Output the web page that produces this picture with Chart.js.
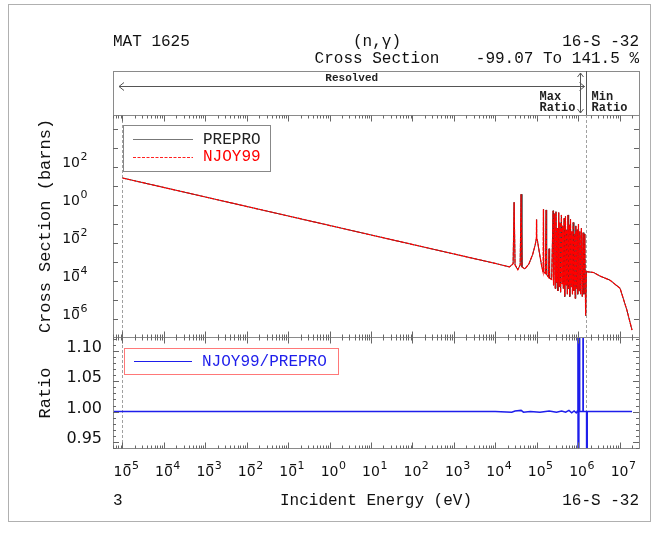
<!DOCTYPE html>
<html>
<head>
<meta charset="utf-8">
<title>MAT 1625 (n,gamma) PREPRO vs NJOY99</title>
<script src="https://cdn.jsdelivr.net/npm/chart.js@4/dist/chart.umd.min.js"></script>
<style>
  html, body { margin: 0; padding: 0; background: #fff; }
  #wrap { position: relative; width: 658px; height: 536px; }
</style>
</head>
<body>
<div id="wrap"><canvas id="xsChart" width="658" height="536"></canvas></div>
<script>
// capture cross section (barns) vs incident energy (eV)
const energy = [
  1.0e-5, 1.0e-3, 1.0e-1, 1.0e1, 1.0e3, 1.0e4, 2.2e4, 2.7e4, 2.85e4, 3.0e4,
  3.5e4, 4.0e4, 4.2e4, 4.4e4, 5.2e4, 6.5e4, 8.0e4, 9.2e4, 9.8e4, 9.9e4,
  1.0e5, 1.05e5, 1.18e5, 1.32e5, 1.42e5, 1.45e5, 1.48e5, 1.62e5, 1.69e5, 1.74e5,
  1.92e5, 1.99e5, 2.05e5, 2.30e5, 2.49e5, 2.55e5, 2.70e5, 2.80e5, 2.92e5, 3.02e5,
  3.15e5, 3.25e5, 3.40e5, 3.52e5, 3.65e5, 3.78e5, 3.95e5, 4.10e5, 4.25e5, 4.40e5,
  4.60e5, 4.75e5, 4.95e5, 5.10e5, 5.30e5, 5.50e5, 5.70e5, 5.90e5, 6.10e5, 6.30e5,
  6.55e5, 6.80e5, 7.05e5, 7.30e5, 7.60e5, 7.90e5, 8.20e5, 8.50e5, 8.80e5, 9.10e5,
  9.45e5, 9.80e5, 1.02e6, 1.06e6, 1.10e6, 1.15e6, 1.20e6, 1.26e6, 1.32e6, 1.38e6,
  1.45e6, 1.52e6, 1.58e6, 2.35e6, 3.4e6, 5.9e6, 1.03e7, 1.5e7, 2.0e7
];
const sigma = [
  26.5, 2.65, 0.265, 2.65e-2, 2.65e-3, 8.4e-4, 5.5e-4, 8.0e-4, 1.4, 7.0e-4,
  3.9e-4, 7.0e-4, 3.7, 5.5e-4, 4.3e-4, 8.0e-4, 2.5e-3, 8.0e-3, 1.7e-2, 0.17,
  1.8e-2, 1.2e-2, 2.5e-3, 6.0e-4, 3.0e-4, 0.6, 3.0e-4, 2.5e-4, 0.55, 2.2e-4,
  1.6e-4, 5.0e-3, 1.4e-4, 1.2e-4, 0.5, 6.0e-5, 0.35, 4.0e-5, 0.45, 8.0e-5,
  0.06, 3.0e-5, 0.4, 5.0e-5, 0.12, 2.5e-5, 0.3, 7.0e-5, 0.08, 4.0e-5,
  0.2, 1.5e-5, 0.25, 6.0e-5, 0.05, 2.0e-5, 0.3, 4.0e-5, 0.09, 1.5e-5,
  0.18, 5.0e-5, 0.04, 2.0e-5, 0.12, 3.0e-5, 0.03, 1.2e-5, 0.08, 4.0e-5,
  0.05, 2.0e-5, 0.1, 3.0e-5, 0.04, 2.0e-5, 0.06, 1.5e-5, 0.035, 2.0e-5,
  0.03, 1.5e-6, 3.1e-4, 2.8e-4, 1.8e-4, 1.1e-4, 4.1e-5, 3.0e-6, 2.6e-7
];

// NJOY99 / PREPRO ratio
const ratioEnergy = [
  6.0e-6, 3.0e3, 1.0e4, 2.5e4, 3.0e4, 4.2e4, 4.8e4, 7.0e4, 1.2e5, 2.0e5,
  3.0e5, 4.0e5, 5.0e5, 6.0e5, 7.0e5, 8.0e5, 9.0e5, 9.6e5, 9.9e5, 1.0e6,
  1.01e6, 1.02e6, 1.03e6, 1.05e6, 1.07e6, 1.09e6, 1.2e6, 1.31e6, 1.32e6, 1.33e6,
  1.6e6, 1.64e6, 1.66e6, 3.0e6, 2.0e7
];
const ratioValue = [
  1.0, 1.0, 1.0, 0.999, 1.001, 1.002, 0.999, 1.0, 0.999, 1.001,
  0.999, 1.001, 0.999, 1.002, 0.998, 1.001, 0.998, 1.001, 2.415, 0.0093,
  2.415, 0.0093, 2.415, 0.0093, 2.415, 1.0, 1.0, 1.0, 2.415, 1.0,
  1.0, 0.0093, 1.0, 1.0, 1.0
];

const xExponents = [-5, -4, -3, -2, -1, 0, 1, 2, 3, 4, 5, 6, 7];
const csExponents = [-6, -4, -2, 0, 2];
const ratioTicks = [0.95, 1.00, 1.05, 1.10];
const seriesNames = ["PREPRO", "NJOY99", "NJOY99/PREPRO"];

const lowerLimit = 1.0e-5;
const resolvedUpper = 1.55e6;
const maxRatioEnergy = 1.08e6;

const monoFont = '"Liberation Mono", "DejaVu Sans Mono", monospace';
const numFont = '"DejaVu Sans", sans-serif';
const frameColor = '#8a8a8a';
const ratioBlue = 'rgb(30,30,235)';

function text(ctx, s, x, y, font, color, align, base) {
  ctx.font = font;
  ctx.fillStyle = color || '#111';
  ctx.textAlign = align || 'left';
  ctx.textBaseline = base || 'middle';
  ctx.fillText(s, x, y);
}

function seg(ctx, x0, y0, x1, y1) {
  ctx.beginPath();
  ctx.moveTo(x0, y0);
  ctx.lineTo(x1, y1);
  ctx.stroke();
}

// "10" plus a small exponent, the minus sitting over the 0 like the original
function powLabel(ctx, x, base, exp, align) {
  ctx.font = '14px ' + numFont;
  const w = ctx.measureText('10').width;
  const left = align === 'center' ? x - w / 2 : x - w;
  text(ctx, '10', left, base, '14px ' + numFont, '#111', 'left', 'alphabetic');
  const digits = String(Math.abs(exp));
  text(ctx, digits, left + w + 0.5, base - 7, '11px ' + numFont, '#111', 'left', 'alphabetic');
  if (exp < 0) {
    ctx.fillStyle = '#111';
    ctx.fillRect(left + w - 7, base - 12, 6, 1.2);
  }
}

// each series is clipped to its own panel
const panelClip = {
  id: 'panelClip',
  beforeDatasetDraw(chart, args) {
    const scale = chart.scales[args.meta.yAxisID];
    const { ctx } = chart;
    ctx.save();
    ctx.beginPath();
    ctx.rect(chart.scales.x.left, scale.top, chart.scales.x.right - chart.scales.x.left, scale.bottom - scale.top);
    ctx.clip();
  },
  afterDatasetDraw(chart) {
    chart.ctx.restore();
  }
};

const decorations = {
  id: 'decorations',
  beforeDatasetsDraw(chart) {
    const { ctx, scales: { x, y, yr } } = chart;
    ctx.save();
    ctx.strokeStyle = '#a0a0a0';
    ctx.lineWidth = 1;
    ctx.setLineDash([3, 2]);
    [lowerLimit, resolvedUpper].forEach(e => {
      const px = Math.round(x.getPixelForValue(e)) + 0.5;
      seg(ctx, px, y.top, px, yr.bottom);
    });
    ctx.restore();
  },
  afterDatasetsDraw(chart) {
    const { ctx, scales: { x, y, yr } } = chart;
    const L = x.left, R = x.right;
    ctx.save();
    ctx.lineWidth = 1;

    // outer frame
    ctx.strokeStyle = '#b0b0b0';
    ctx.strokeRect(8.5, 4.5, 642, 517);

    // header
    text(ctx, 'MAT 1625', 113, 42, '16px ' + monoFont);
    text(ctx, '(n,\u03b3)', 377, 42, '16px ' + monoFont, '#111', 'center');
    text(ctx, '16-S -32', 639, 42, '16px ' + monoFont, '#111', 'right');
    text(ctx, 'Cross Section', 377, 59, '16px ' + monoFont, '#111', 'center');
    text(ctx, '-99.07 To 141.5 %', 639, 59, '16px ' + monoFont, '#111', 'right');

    // energy range band above the plot
    const bandTop = 71;
    ctx.strokeStyle = frameColor;
    ctx.strokeRect(L + 0.5, bandTop + 0.5, R - L, y.top - bandTop);
    const xRes = Math.round(x.getPixelForValue(resolvedUpper)) + 0.5;
    const xMax = Math.round(x.getPixelForValue(maxRatioEnergy)) + 0.5;
    const xLow = Math.round(x.getPixelForValue(lowerLimit)) - 3;
    ctx.strokeStyle = '#555';
    seg(ctx, xLow, 86.5, xRes - 2, 86.5);
    seg(ctx, xLow, 86.5, xLow + 5, 82.5); seg(ctx, xLow, 86.5, xLow + 5, 90.5);
    seg(ctx, xRes - 2, 86.5, xRes - 7, 82.5); seg(ctx, xRes - 2, 86.5, xRes - 7, 90.5);
    seg(ctx, xRes, bandTop, xRes, y.top);
    seg(ctx, xMax, bandTop + 2, xMax, y.top - 2);
    seg(ctx, xMax, bandTop + 2, xMax - 3, bandTop + 6); seg(ctx, xMax, bandTop + 2, xMax + 3, bandTop + 6);
    seg(ctx, xMax, y.top - 2, xMax - 3, y.top - 6); seg(ctx, xMax, y.top - 2, xMax + 3, y.top - 6);
    text(ctx, 'Resolved', (L + xRes) / 2 + 2, 78, 'bold 11px ' + monoFont, '#222', 'center');
    text(ctx, 'Max', xMax - 41, 97, 'bold 12px ' + monoFont, '#222');
    text(ctx, 'Ratio', xMax - 41, 108, 'bold 12px ' + monoFont, '#222');
    text(ctx, 'Min', xRes + 5, 97, 'bold 12px ' + monoFont, '#222');
    text(ctx, 'Ratio', xRes + 5, 108, 'bold 12px ' + monoFont, '#222');

    // plot frames
    ctx.strokeStyle = frameColor;
    ctx.strokeRect(L + 0.5, y.top + 0.5, R - L, y.bottom - y.top);
    ctx.strokeRect(L + 0.5, yr.top + 0.5, R - L, yr.bottom - yr.top);

    // x ticks, pointing inwards on every horizontal edge
    ctx.strokeStyle = '#666';
    const edges = [[y.top, 1], [y.bottom, -1], [yr.top, 1], [yr.bottom, -1]];
    for (let d = -6; d <= 7; d++) {
      for (let m = 1; m <= 9; m++) {
        const v = m * Math.pow(10, d);
        if (v < x.min || v > x.max) continue;
        const px = Math.round(x.getPixelForValue(v)) + 0.5;
        const len = m === 1 ? 6 : 3;
        edges.forEach(([ey, dir]) => seg(ctx, px, ey + 0.5, px, ey + 0.5 + dir * len));
      }
    }
    // cross section decade ticks
    for (let d = -7; d <= 4; d++) {
      const v = Math.pow(10, d);
      if (v < y.min || v > y.max) continue;
      const py = Math.round(y.getPixelForValue(v)) + 0.5;
      seg(ctx, L, py, L + 5, py);
      seg(ctx, R, py, R - 5, py);
    }
    // ratio ticks
    for (let k = 94; k <= 112; k++) {
      const v = k / 100;
      const py = Math.round(yr.getPixelForValue(v)) + 0.5;
      const len = k % 5 === 0 ? 6 : 3;
      seg(ctx, L, py, L + len, py);
      seg(ctx, R, py, R - len, py);
    }

    // tick labels
    xExponents.forEach(e => powLabel(ctx, x.getPixelForValue(Math.pow(10, e)), 476, e, 'center'));
    csExponents.forEach(e => powLabel(ctx, 80, Math.round(y.getPixelForValue(Math.pow(10, e))), e, 'right'));
    ratioTicks.forEach(v => text(ctx, v.toFixed(2), 102, Math.round(yr.getPixelForValue(v)) + 0.5,
      '16px ' + numFont, '#111', 'right', 'alphabetic'));

    // axis titles
    ctx.save();
    ctx.translate(45, (y.top + y.bottom) / 2);
    ctx.rotate(-Math.PI / 2);
    text(ctx, 'Cross Section (barns)', 0, 0, '17px ' + monoFont, '#111', 'center');
    ctx.restore();
    ctx.save();
    ctx.translate(45, 393);
    ctx.rotate(-Math.PI / 2);
    text(ctx, 'Ratio', 0, 0, '17px ' + monoFont, '#111', 'center');
    ctx.restore();
    text(ctx, '3', 113, 501, '16px ' + monoFont);
    text(ctx, 'Incident Energy (eV)', 376, 501, '16px ' + monoFont, '#111', 'center');
    text(ctx, '16-S -32', 639, 501, '16px ' + monoFont, '#111', 'right');

    // legends
    ctx.strokeStyle = '#888';
    ctx.strokeRect(123.5, 125.5, 147, 46);
    ctx.strokeStyle = '#777';
    seg(ctx, 133, 139.5, 193, 139.5);
    ctx.strokeStyle = '#ff2020';
    ctx.setLineDash([3, 1.5]);
    seg(ctx, 133, 157.5, 193, 157.5);
    ctx.setLineDash([]);
    text(ctx, seriesNames[0], 203, 140, '16px ' + monoFont, '#222');
    text(ctx, seriesNames[1], 203, 157, '16px ' + monoFont, 'red');

    ctx.strokeStyle = 'rgb(255,120,120)';
    ctx.strokeRect(124.5, 348.5, 214, 26);
    ctx.strokeStyle = ratioBlue;
    seg(ctx, 134, 361.5, 192, 361.5);
    text(ctx, seriesNames[2], 202, 362, '16px ' + monoFont, ratioBlue);
    ctx.restore();
  }
};

const pts = (xs, ys) => xs.map((e, i) => ({ x: e, y: ys[i] }));

new Chart(document.getElementById('xsChart'), {
  type: 'line',
  data: {
    datasets: [
      {
        label: seriesNames[0], data: pts(energy, sigma), yAxisID: 'y', order: 2,
        borderColor: '#333', borderWidth: 1, pointRadius: 0, tension: 0, clip: false
      },
      {
        label: seriesNames[1], data: pts(energy, sigma), yAxisID: 'y', order: 1,
        borderColor: 'red', borderWidth: 1.2, borderDash: [4, 1], pointRadius: 0, tension: 0, clip: false
      },
      {
        label: seriesNames[2], data: pts(ratioEnergy, ratioValue), yAxisID: 'yr', order: 0,
        borderColor: ratioBlue, borderWidth: 1.5, pointRadius: 0, tension: 0, clip: false
      }
    ]
  },
  options: {
    responsive: false,
    animation: false,
    events: [],
    layout: { padding: { left: 113, right: 19, top: 115, bottom: 88 } },
    plugins: { legend: { display: false }, tooltip: { enabled: false }, title: { display: false } },
    scales: {
      x: {
        type: 'logarithmic', min: 5.9e-6, max: 2.95e7,
        ticks: { display: false }, grid: { display: false }, border: { display: false },
        afterFit: s => { s.height = 0; }
      },
      yr: {
        type: 'linear', min: 0.940, max: 1.123, position: 'left',
        stack: 'panels', stackWeight: 1,
        ticks: { display: false }, grid: { display: false }, border: { display: false },
        afterFit: s => { s.width = 0; }
      },
      y: {
        type: 'logarithmic', min: 1.12e-7, max: 5.5e4, position: 'left',
        stack: 'panels', stackWeight: 2,
        ticks: { display: false }, grid: { display: false }, border: { display: false },
        afterFit: s => { s.width = 0; }
      }
    }
  },
  plugins: [panelClip, decorations]
});
</script>
</body>
</html>
